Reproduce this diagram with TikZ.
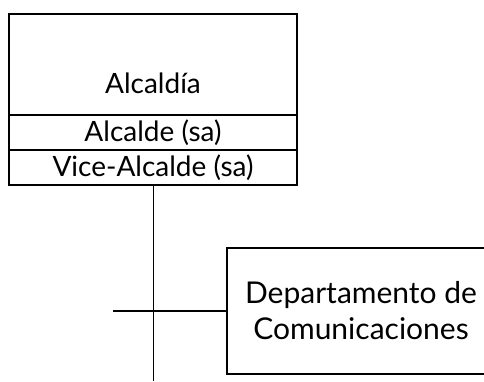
\documentclass[tikz,border=0pt]{standalone}
\usepackage{fontspec}
\setmainfont{Lato}
\usetikzlibrary{positioning}
\tikzset{
  letra/.style={font=\fontsize{28}{25}\selectfont},
  caja/.style={draw,line width=2pt,rectangle,inner sep=0pt,outer sep=0pt,letra},
  fila/.style={caja,minimum width=288pt,minimum height=35pt},
}
\begin{document}
\begin{tikzpicture}[x=1pt,y=-1pt]
  \useasboundingbox (0,0) rectangle (484,381);
  \path (153,64.5) node[caja,minimum width=288pt,minimum height=101pt] (alcaldia) {};
  \path node[letra,above=18pt of alcaldia.south] (titulo) {Alcaldía};
  \path node[fila,below=0pt of alcaldia] (alcalde) {Alcalde (sa)};
  \path node[fila,below=0pt of alcalde] (vice) {Vice-Alcalde (sa)};
  \path (361,311) node[caja,minimum width=268pt,minimum height=126pt,align=center,font=\fontsize{30}{36}\selectfont] (depto) {Departamento de\\Comunicaciones};
  \coordinate (fin) at (153,381);
  \coordinate (rama) at (113,311);
  \draw[line width=0.8pt] (vice.south) -- (fin);
  \draw[line width=2pt] (depto.west) -- (rama);
\end{tikzpicture}
\end{document}
